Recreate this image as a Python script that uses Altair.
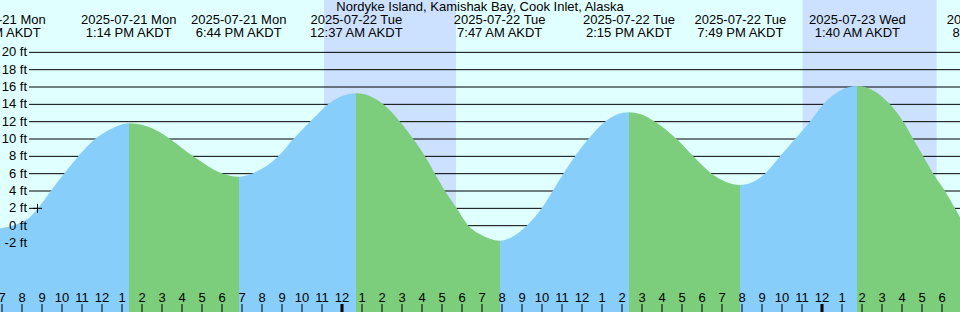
import altair as alt
import pandas as pd

# ---------------- data ----------------
# Hours are counted from 2025-07-22 00:00 AKDT; levels in feet.
curve_hours = [-17.3, -16.2, -15.7, -15.3, -14.665, -14.0, -13.285, -12.45, -11.7, -10.767,
               -9.2, -8.7, -7.535, -6.05, -5.267,
               -4.615, -3.285, -2.535, -1.7, -1.2, -0.8, 0.617,
               1.965, 2.8, 3.465, 4.05, 4.55, 5.05, 5.635, 6.215, 6.8, 7.783,
               9.135, 9.885, 10.435, 10.965, 11.55, 12.215, 13.05, 14.25,
               14.8, 15.55, 16.635, 17.465, 18.385, 19.817,
               21.05, 21.8, 22.55, 23.3, 23.965, 25.667,
               27.3, 27.965, 28.465, 28.965, 29.465, 30.05, 30.55, 31.075, 32.55]
curve_ft = [-0.35, 0.3, 1.0, 2.0, 4.0, 6.0, 8.0, 10.0, 11.1, 11.82,
            10.78, 10.0, 8.0, 6.0, 5.65,
            6.0, 8.0, 10.0, 12.0, 13.15, 14.0, 15.28,
            14.0, 12.0, 10.0, 8.0, 6.0, 4.0, 2.0, 0.0, -1.0, -1.73,
            0.0, 2.0, 4.0, 6.0, 8.0, 10.0, 12.0, 13.08,
            12.9, 12.0, 10.0, 8.0, 6.0, 4.7,
            6.0, 8.0, 10.0, 12.0, 14.0, 16.12,
            14.0, 12.0, 10.0, 8.0, 6.0, 4.0, 2.0, 0.0, -2.0]

ext_hours = [-17.3, -10.767, -5.267, 0.617, 7.783, 14.25, 19.817, 25.667, 32.55]
ext_dates = ["2025-07-21 Mon", "2025-07-21 Mon", "2025-07-21 Mon", "2025-07-22 Tue",
             "2025-07-22 Tue", "2025-07-22 Tue", "2025-07-22 Tue", "2025-07-23 Wed",
             "2025-07-23 Wed"]
ext_times = ["6:42 AM AKDT", "1:14 PM AKDT", "6:44 PM AKDT", "12:37 AM AKDT",
             "7:47 AM AKDT", "2:15 PM AKDT", "7:49 PM AKDT", "1:40 AM AKDT",
             "8:33 AM AKDT"]

night_start = [-1.0, 22.93]
night_end = [5.6, 29.63]

grid_ft = [-2, 0, 2, 4, 6, 8, 10, 12, 14, 16, 18, 20]
hour_ticks = list(range(-17, 31))

now_hour = [-15.325]
now_ft = [2.0]

title_text = "Nordyke Island, Kamishak Bay, Cook Inlet, Alaska"

# ---------------- styling ----------------
BG = "#E0FFFF"
NIGHT = "#CCE0FF"
RISE = "#87CEFA"
FALL = "#7CCD7C"
FONT = "Liberation Sans"
FS = 13

X_DOMAIN = [-17.2, 30.8]
Y_DOMAIN = [-9.96, 26.04]
xs = alt.Scale(domain=X_DOMAIN, nice=False, zero=False)
ys = alt.Scale(domain=Y_DOMAIN, nice=False, zero=False)

curve_df = pd.DataFrame({"h": curve_hours, "ft": curve_ft})
ext_df = pd.DataFrame({"h": ext_hours, "date": ext_dates, "time": ext_times})
night_df = pd.DataFrame({"s": night_start, "e": night_end})
grid_df = pd.DataFrame({"ft": grid_ft, "label": [f"{v} ft" for v in grid_ft]})
tick_df = pd.DataFrame({"h": hour_ticks,
                        "label": [str((h % 12) or 12) for h in hour_ticks],
                        "midnight": [h % 24 == 0 for h in hour_ticks]})
now_df = pd.DataFrame({"h": now_hour, "ft": now_ft})

# gradient stops: rising (blue) until each high, falling (green) until each low
h0, h1 = curve_hours[0], curve_hours[-1]
stops = []
color = RISE
stops.append(alt.GradientStop(offset=0, color=color))
for hx in ext_hours[1:-1]:
    off = (hx - h0) / (h1 - h0)
    stops.append(alt.GradientStop(offset=off, color=color))
    color = FALL if color == RISE else RISE
    stops.append(alt.GradientStop(offset=off, color=color))
stops.append(alt.GradientStop(offset=1, color=color))

X = lambda f: alt.X(f, scale=xs, axis=None)
Y = lambda f: alt.Y(f, scale=ys, axis=None)

nights = alt.Chart(night_df).mark_rect(color=NIGHT).encode(
    x=X("s:Q"), x2="e:Q", y=alt.value(0), y2=alt.value(312))

grid = alt.Chart(grid_df).mark_rule(color="black", strokeWidth=1).encode(
    x=alt.value(29), x2=alt.value(960), y=Y("ft:Q"))

area = alt.Chart(curve_df).mark_area(
    interpolate="monotone", clip=True,
    color=alt.Gradient(gradient="linear", x1=0, x2=1, y1=0, y2=0, stops=stops)
).encode(x=X("h:Q"), y=Y("ft:Q"), y2=alt.datum(Y_DOMAIN[0]))

marker = alt.Chart(now_df).mark_point(
    shape="M-1,0H1M0,-1V1", size=81, filled=False, color="black", strokeWidth=1, opacity=1
).encode(x=X("h:Q"), y=Y("ft:Q"))

ticks = alt.Chart(tick_df).mark_rule(color="black", strokeWidth=1).encode(
    x=X("h:Q"), y=alt.value(304), y2=alt.value(312), xOffset=alt.value(-2)
).transform_filter("!datum.midnight")

ticks_mid = alt.Chart(tick_df).mark_rule(color="black", strokeWidth=3).encode(
    x=X("h:Q"), y=alt.value(304), y2=alt.value(312), xOffset=alt.value(-2)
).transform_filter("datum.midnight")

tick_labels = alt.Chart(tick_df).mark_text(
    font=FONT, fontSize=FS, color="black", align="center", baseline="alphabetic"
).encode(x=X("h:Q"), y=alt.value(302), xOffset=alt.value(-2), text="label:N")

y_labels = alt.Chart(grid_df).mark_text(
    font=FONT, fontSize=FS, color="black", align="right", baseline="middle"
).encode(x=alt.value(27), y=Y("ft:Q"), text="label:N")

head1 = alt.Chart(ext_df).mark_text(
    font=FONT, fontSize=FS, color="black", align="center", baseline="alphabetic"
).encode(x=X("h:Q"), y=alt.value(24), text="date:N")

head2 = alt.Chart(ext_df).mark_text(
    font=FONT, fontSize=FS, color="black", align="center", baseline="alphabetic"
).encode(x=X("h:Q"), y=alt.value(37), text="time:N")

title = alt.Chart(pd.DataFrame({"t": [title_text]})).mark_text(
    font=FONT, fontSize=FS, color="black", align="center", baseline="alphabetic"
).encode(x=alt.value(480), y=alt.value(11), text="t:N")

chart = alt.layer(
    nights, grid, area, marker, ticks, ticks_mid, tick_labels, y_labels, head1, head2, title
).properties(
    width=960, height=312, background=BG, padding=0, autosize="none"
).configure_view(strokeWidth=0)

chart.save("out.html", embed_options={"renderer": "svg", "actions": False})
